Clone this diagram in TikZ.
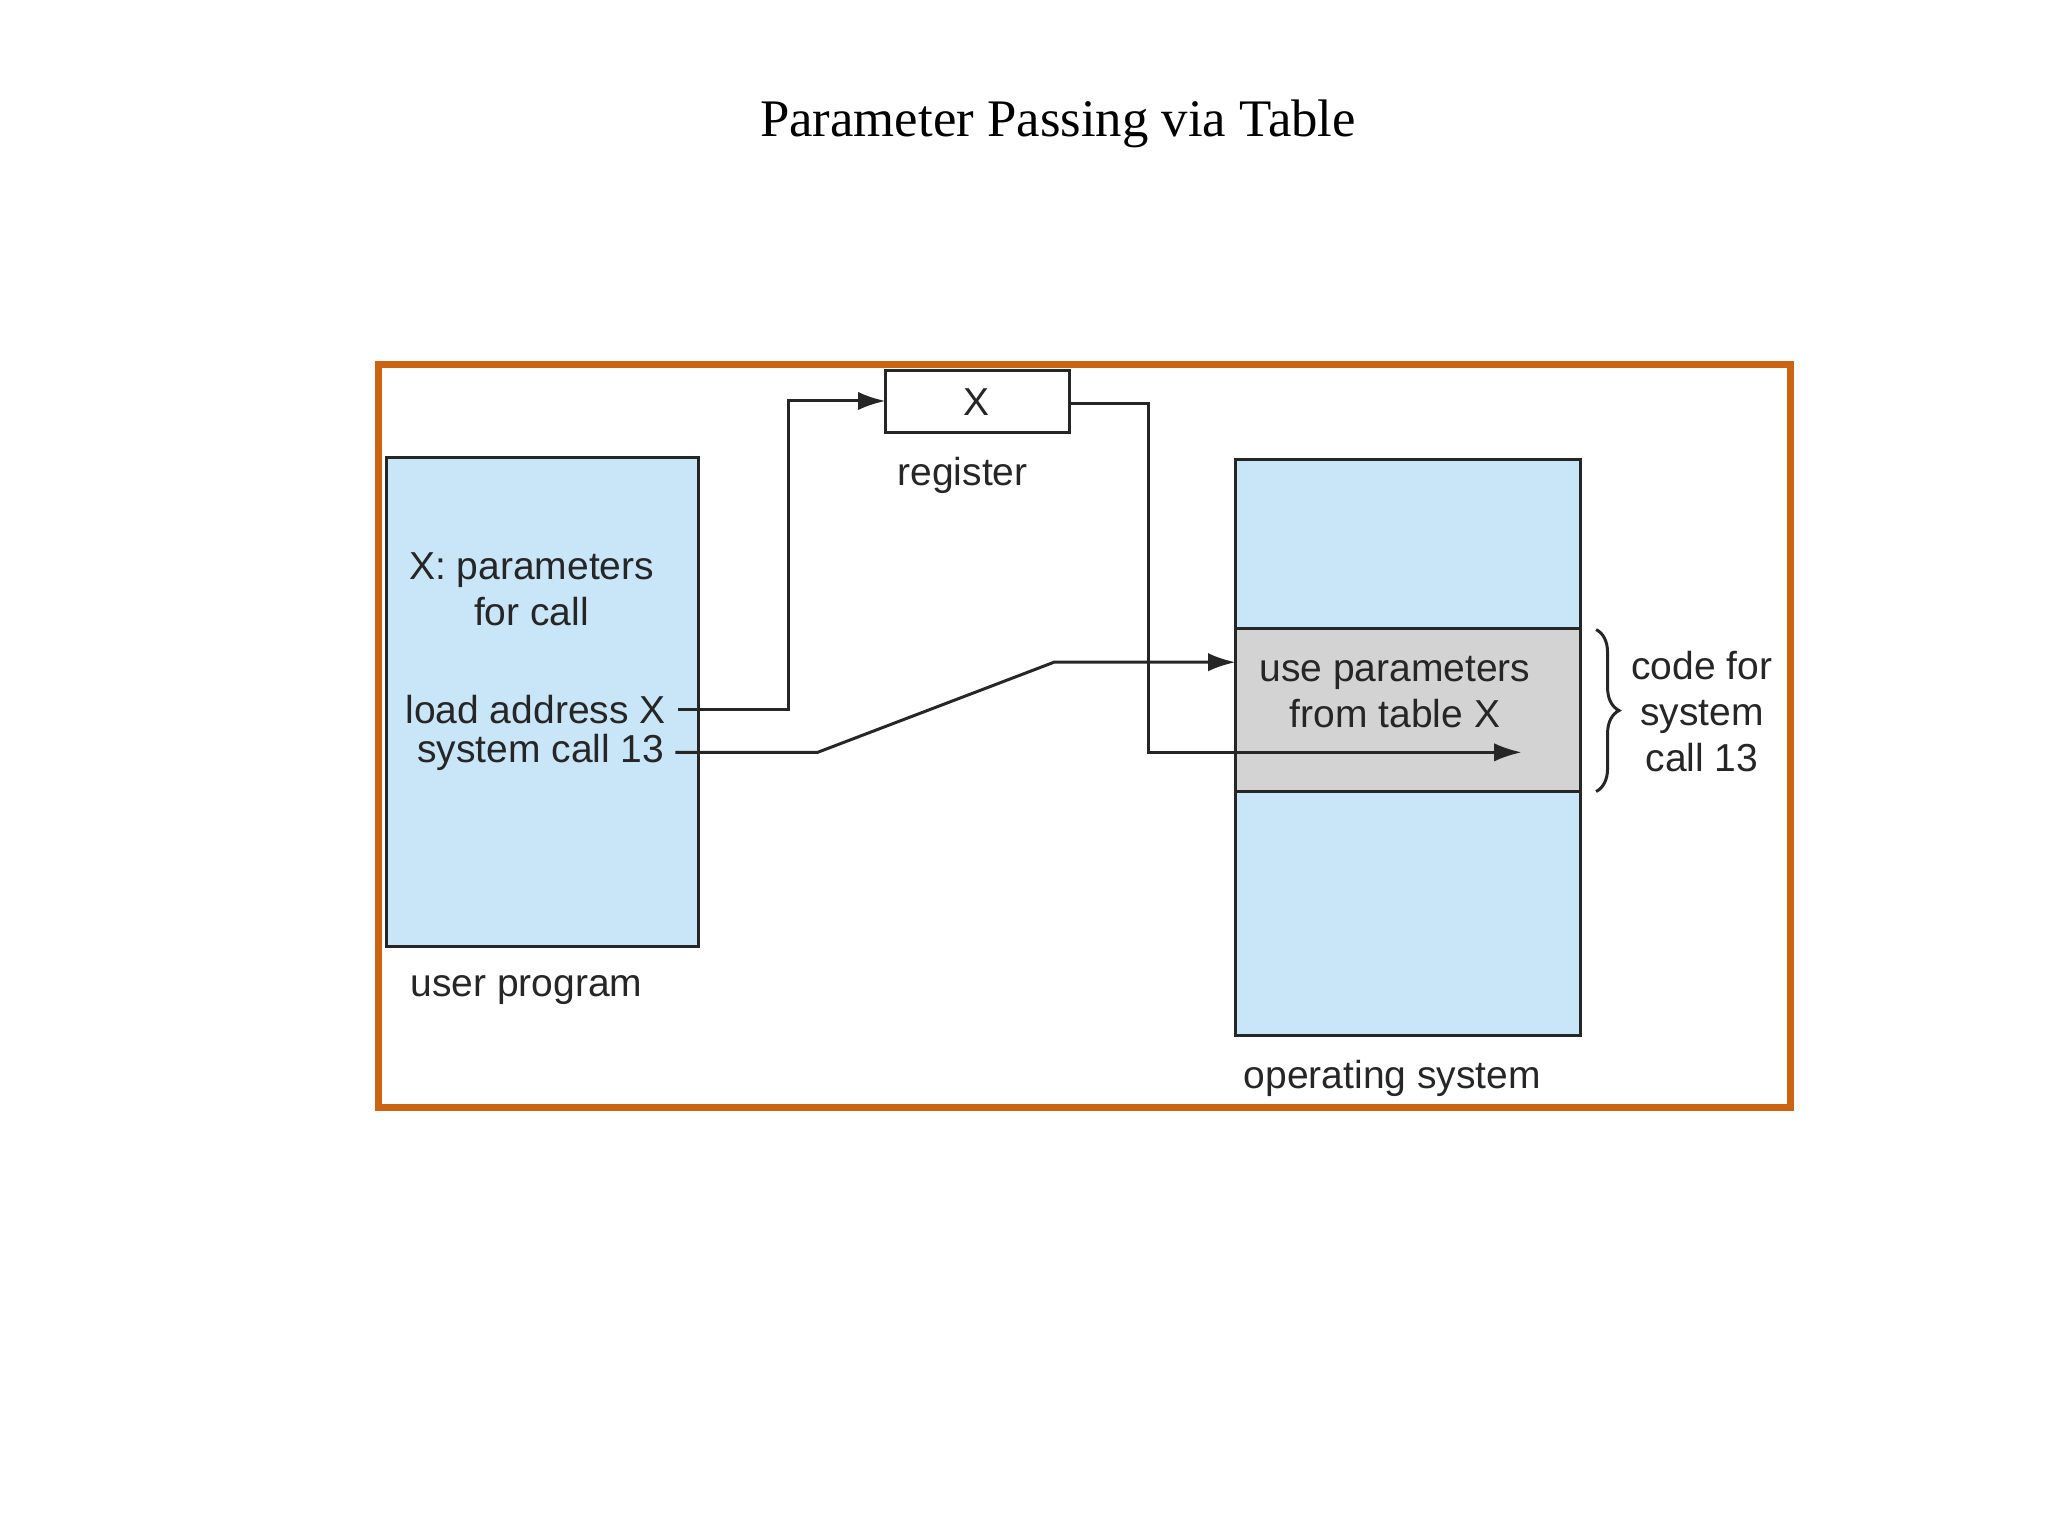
\documentclass[tikz,border=0pt]{standalone}
\usepackage{fontspec}
\setmainfont{Liberation Serif}
\newfontfamily\sans{Liberation Sans}
\usetikzlibrary{arrows.meta,decorations.pathreplacing}
\definecolor{lb}{HTML}{C8E6F8}
\definecolor{gr}{HTML}{D3D3D3}
\definecolor{fr}{HTML}{CC6310}
\begin{document}
\begin{tikzpicture}[x=0.02cm,y=-0.02cm,
  lbl/.style={font=\sans\fontsize{17}{20}\selectfont,text=black!85,align=center,inner sep=0pt},
  ln/.style={line width=1.3pt,black!85},
  arr/.style={ln,-{Latex[length=12pt,width=8pt]}}]
\useasboundingbox (0,0) rectangle (1568,1176);
\node[font=\fontsize{23}{27}\selectfont] (title) at (810,95) {Parameter Passing via Table};
\draw[fr,line width=3pt] (290,279) rectangle (1371,848);
\draw[ln,fill=lb] (296,350) rectangle (535,725);
\draw[ln,fill=white] (678,284) rectangle (819,331);
\node[lbl] (x) at (748,308) {X};
\node[lbl] (reg) at (737,364) {register};
\draw[ln,fill=lb] (946,352) rectangle (1210,793);
\draw[ln,fill=gr] (946,481) rectangle (1210,606);
\node[lbl] (xp) at (407,451) {X: parameters\\for call};
\node[lbl,anchor=east] (la) at (510,543) {load address X};
\node[lbl,anchor=east] (sc) at (509,576) {system call 13};
\node[lbl] (up) at (403,758) {user program};
\node[lbl] (os) at (1066,826) {operating system};
\node[lbl] (use) at (1068,530) {use parameters\\from table X};
\node[lbl] (code) at (1303,545) {code for\\system\\call 13};
\coordinate (a0) at (519,543); \coordinate (a1) at (678,307);
\draw[arr] (a0) -- (604,543) -- (604,307) -- (a1);
\coordinate (b0) at (517,576); \coordinate (b1) at (946,507);
\draw[arr] (b0) -- (626,576) -- (807,507) -- (b1);
\coordinate (c0) at (819,309); \coordinate (c1) at (1165,576);
\draw[arr] (c0) -- (879,309) -- (879,576) -- (c1);
\draw[ln,decorate,decoration={brace,amplitude=10pt}] (1222,482) -- (1222,606);
\end{tikzpicture}
\end{document}
